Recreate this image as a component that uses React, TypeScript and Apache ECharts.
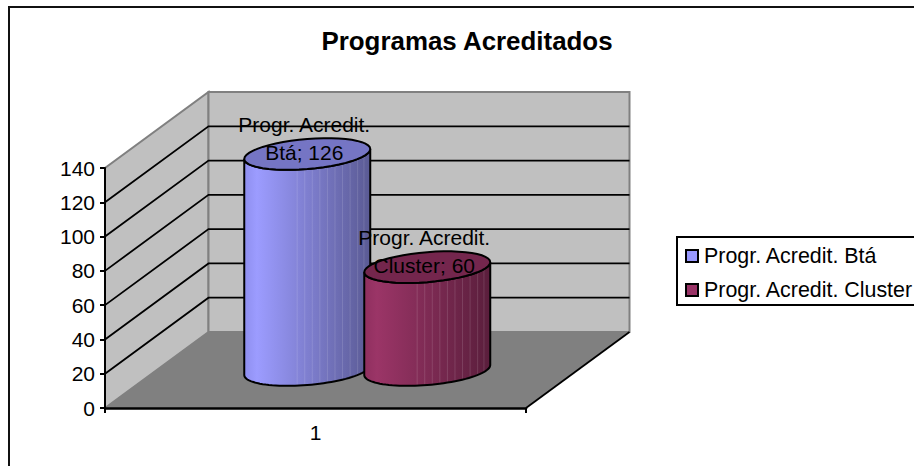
import React, { useEffect, useRef } from "react";
import * as echarts from "echarts";

const categories = ["1"];
const seriesNames = ["Progr. Acredit. Btá", "Progr. Acredit. Cluster"];
const btaValues = [126];
const clusterValues = [60];
const gridTicks = [20, 40, 60, 80, 100, 120];
const streaks = [0.42, 0.48, 0.54, 0.6, 0.66, 0.72, 0.78, 0.84, 0.9, 0.95];

const FONT = '"Liberation Sans", Arial, sans-serif';
const DX = 103.5;
const DY = -76;
const RX = 63;
const RY = 15;
const SHEAR = 5;
const OFFSET = 60;

function ellipsePts(cx: number, cy: number, from: number, to: number) {
  const pts: number[][] = [];
  const n = 48;
  for (let i = 0; i <= n; i++) {
    const t = from + ((to - from) * i) / n;
    pts.push([cx + RX * Math.cos(t), cy + RY * Math.sin(t) - SHEAR * Math.cos(t)]);
  }
  return pts;
}

function cylinder(offset: number, stops: string[], topColor: string) {
  return (_: any, api: any) => {
    const v = api.value(1);
    const base = api.coord([api.value(0), 0]);
    const top = api.coord([api.value(0), v]);
    const cx = base[0] + DX / 2 + offset;
    const by = base[1] + DY / 2;
    const ty = top[1] + DY / 2;
    const sideFront = ellipsePts(cx, ty, 0, Math.PI);
    const bottomFront = ellipsePts(cx, by, Math.PI, 0);
    const children: any[] = [
      {
        type: "polygon",
        shape: { points: [...sideFront, ...bottomFront] },
        style: {
          fill: {
            type: "linear", x: 0, y: 0, x2: 1, y2: 0,
            colorStops: [
              { offset: 0, color: stops[0] },
              { offset: 0.1, color: stops[1] },
              { offset: 1, color: stops[2] },
            ],
          },
          stroke: "none",
        },
      },
    ];
    streaks.forEach((f) => {
      const x = cx - RX + 2 * RX * f;
      const t = Math.acos((x - cx) / RX);
      const y1 = ty + RY * Math.sin(t) - SHEAR * Math.cos(t);
      const y2 = by + RY * Math.sin(t) - SHEAR * Math.cos(t);
      children.push({
        type: "line",
        shape: { x1: x, y1, x2: x, y2 },
        style: { stroke: "rgba(255,255,255,0.13)", lineWidth: 1 },
      });
    });
    children.push(
      {
        type: "polygon",
        shape: { points: [...sideFront, ...bottomFront] },
        style: { fill: "none", stroke: "#000", lineWidth: 2 },
      },
      {
        type: "polygon",
        shape: { points: ellipsePts(cx, ty, 0, Math.PI * 2) },
        style: { fill: topColor, stroke: "#000", lineWidth: 2 },
      },
      {
        type: "text",
        x: cx - 3,
        y: ty - 16,
        style: {
          text: api.value(2) + "; " + v,
          font: `21px ${FONT}`,
          fill: "#000",
          textAlign: "center",
          textVerticalAlign: "middle",
          lineHeight: 28,
        },
      }
    );
    return { type: "group", children };
  };
}

const renderWalls = (_: any, api: any) => {
  const o = api.coord([0, 0]);
  const t = api.coord([0, 140]);
  const w = api.size([1, 0])[0];
  const x0 = o[0] - w / 2;
  const x1 = o[0] + w / 2;
  const y0 = o[1];
  const yT = t[1];
  const G = "#808080";
  return {
    type: "group",
    children: [
      {
        type: "polygon",
        shape: { points: [[x0, y0], [x0, yT], [x0 + DX, yT + DY], [x0 + DX, y0 + DY]] },
        style: { fill: "#C0C0C0", stroke: G, lineWidth: 2 },
      },
      {
        type: "polygon",
        shape: { points: [[x0 + DX, y0 + DY], [x0 + DX, yT + DY], [x1 + DX, yT + DY], [x1 + DX, y0 + DY]] },
        style: { fill: "#C0C0C0", stroke: G, lineWidth: 2 },
      },
      {
        type: "polygon",
        shape: { points: [[x0, y0], [x1, y0], [x1 + DX, y0 + DY], [x0 + DX, y0 + DY]] },
        style: { fill: "#808080", stroke: "none" },
      },
      {
        type: "line",
        shape: { x1: x1, y1: y0, x2: x1 + DX, y2: y0 + DY },
        style: { stroke: "#000", lineWidth: 1.8 },
      },
    ],
  };
};

const renderGrid = (_: any, api: any) => {
  const p = api.coord([0, api.value(0)]);
  const w = api.size([1, 0])[0];
  const x0 = p[0] - w / 2;
  return {
    type: "polyline",
    shape: { points: [[x0, p[1]], [x0 + DX, p[1] + DY], [x0 + w + DX, p[1] + DY]] },
    style: { fill: "none", stroke: "#000", lineWidth: 1.8 },
  };
};

const option: any = {
  animation: false,
  backgroundColor: "#fff",
  title: {
    text: "Programas Acreditados",
    left: 462,
    top: 23,
    textAlign: "center",
    textStyle: { fontFamily: FONT, fontSize: 25.9, fontWeight: "bold", color: "#000" },
  },
  legend: {
    orient: "vertical",
    left: 677,
    top: 237,
    padding: [7, 8, 3, 8],
    itemWidth: 12,
    itemHeight: 12,
    itemGap: 10,
    borderColor: "#000",
    borderWidth: 2,
    textStyle: { fontFamily: FONT, fontSize: 21.4, lineHeight: 24, color: "#000", padding: [0, 0, 0, 1] },
    data: [
      { name: seriesNames[0], icon: "rect", itemStyle: { color: "#9999FF", borderColor: "#000", borderWidth: 2 } },
      { name: seriesNames[1], icon: "rect", itemStyle: { color: "#993366", borderColor: "#000", borderWidth: 2 } },
    ],
  },
  grid: { left: 105, top: 168, width: 421, height: 240 },
  xAxis: {
    type: "category",
    data: categories,
    z: 5,
    axisLine: { lineStyle: { color: "#000", width: 2.5 } },
    axisTick: { show: true, length: 5, lineStyle: { color: "#000", width: 2 } },
    axisLabel: { fontFamily: FONT, fontSize: 21, color: "#000", margin: 14 },
  },
  yAxis: {
    type: "value",
    min: 0,
    max: 140,
    interval: 20,
    z: 5,
    axisLine: { show: true, lineStyle: { color: "#000", width: 2 } },
    axisTick: { show: true, length: 5, lineStyle: { color: "#000", width: 2 } },
    axisLabel: { fontFamily: FONT, fontSize: 21, color: "#000", margin: 10, padding: [4, 0, 0, 0] },
    splitLine: { show: false },
  },
  series: [
    { type: "custom", name: "walls", z: 1, silent: true, renderItem: renderWalls, data: [[0]] },
    { type: "custom", name: "grid", z: 1, silent: true, renderItem: renderGrid, encode: { y: 0 }, data: gridTicks.map((t) => [t]) },
    {
      type: "custom",
      name: seriesNames[0],
      z: 3,
      itemStyle: { color: "#9999FF" },
      renderItem: cylinder(-OFFSET, ["#8E8EEE", "#9C9CFF", "#5A5A94"], "#7575C4"),
      encode: { x: 0, y: 1 },
      data: categories.map((c, i) => [i, btaValues[i], "Progr. Acredit.\nBtá"]),
    },
    {
      type: "custom",
      name: seriesNames[1],
      z: 4,
      itemStyle: { color: "#993366" },
      renderItem: cylinder(OFFSET, ["#8F2F5F", "#9B3567", "#5A1E3C"], "#74264D"),
      encode: { x: 0, y: 1 },
      data: categories.map((c, i) => [i, clusterValues[i], "Progr. Acredit.\nCluster"]),
    },
  ],
  graphic: [
    {
      type: "rect",
      silent: true,
      shape: { x: 9, y: 7, width: 1000, height: 600 },
      style: { fill: "none", stroke: "#111", lineWidth: 2 },
      z: 0,
    },
  ],
};

export default function App() {
  const ref = useRef<HTMLDivElement>(null);
  useEffect(() => {
    document.body.style.margin = "0";
    const chart = echarts.init(ref.current!, undefined, { renderer: "svg" });
    chart.setOption(option);
    return () => chart.dispose();
  }, []);
  return <div ref={ref} style={{ width: 914, height: 466, overflow: "hidden" }} />;
}
